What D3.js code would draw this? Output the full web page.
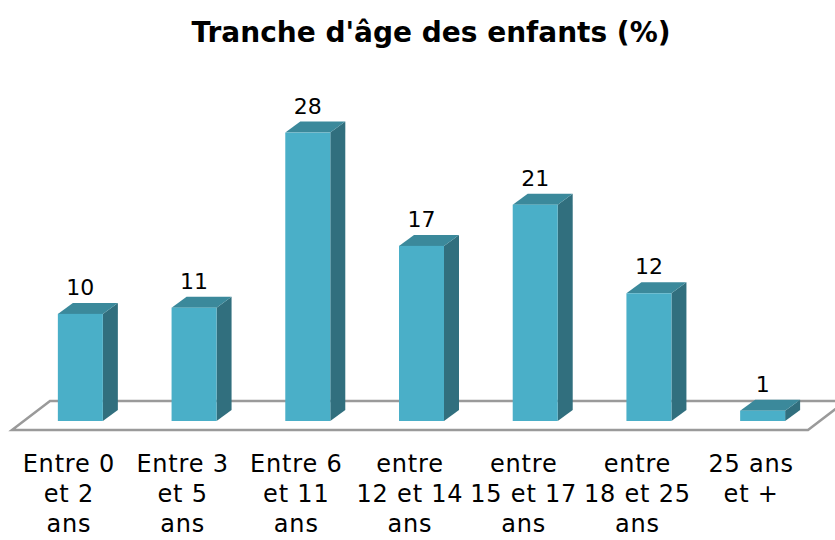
<!DOCTYPE html>
<html>
<head>
<meta charset="utf-8">
<script src="https://cdn.jsdelivr.net/npm/d3@7"></script>
<style>
	body { margin: 0; background: #fff; }
	svg { display: block; }
	text { font-family: "DejaVu Sans", sans-serif; fill: #000; }
</style>
</head>
<body>
<div id="chart"></div>
<script>

// categories (one line per entry in the label)
var categories = [
	["Entre 0", "et 2", "ans"],
	["Entre 3", "et 5", "ans"],
	["Entre 6", "et 11", "ans"],
	["entre", "12 et 14", "ans"],
	["entre", "15 et 17", "ans"],
	["entre", "18 et 25", "ans"],
	["25 ans", "et +"]
];

// percentages
var values = [10.4, 11, 28, 17, 21, 12.4, 1];

var title = "Tranche d'âge des enfants (%)";

var width = 835, height = 540;

// floor parallelogram
var floorLeft = 12, floorRight = 808, floorY = 430,
	depthX = 38, depthY = -29;

// bar geometry
var barW = 45, barDX = 15, barDY = -11, barBase = 421;

var colFront = "#4aafc8",
	colTop = "#3b899b",
	colSide = "#316f7e";

var keys = categories.map(function(d, i) { return i; });

var x = d3.scaleBand()
	.domain(keys)
	.range([floorLeft, floorRight]);

var y = d3.scaleLinear()
	.domain([0, 30])
	.range([barBase, barBase - 309]);

var svg = d3.select("#chart").append("svg")
	.attr("width", width)
	.attr("height", height);

// title
svg.append("text")
	.attr("x", 431)
	.attr("y", 42)
	.attr("text-anchor", "middle")
	.style("font-size", "28px")
	.style("font-weight", "bold")
	.text(title);

// floor
svg.append("path")
	.attr("d", "M" + floorLeft + "," + floorY +
		"L" + floorRight + "," + floorY +
		"L" + (floorRight + depthX) + "," + (floorY + depthY) +
		"L" + (floorLeft + depthX) + "," + (floorY + depthY) + "Z")
	.attr("fill", "none")
	.attr("stroke", "#9a9a9a")
	.attr("stroke-width", 2.5);

// bars
var bar = svg.selectAll("g.bar")
	.data(values)
	.enter()
	.append("g")
	.attr("class", "bar")
	.attr("transform", function(d, i) {
		var cx = x(i) + x.bandwidth() / 2 + depthX / 2;
		return "translate(" + (cx - (barW + barDX) / 2) + ",0)";
	});

// side face
bar.append("path")
	.attr("fill", colSide)
	.attr("d", function(d) {
		var t = y(d);
		return "M" + barW + "," + t + "L" + (barW + barDX) + "," + (t + barDY) +
			"L" + (barW + barDX) + "," + (barBase + barDY) + "L" + barW + "," + barBase + "Z";
	});

// top face
bar.append("path")
	.attr("fill", colTop)
	.attr("d", function(d) {
		var t = y(d);
		return "M0," + t + "L" + barDX + "," + (t + barDY) +
			"L" + (barW + barDX) + "," + (t + barDY) + "L" + barW + "," + t + "Z";
	});

// front face
bar.append("rect")
	.attr("x", 0)
	.attr("y", function(d) { return y(d); })
	.attr("width", barW)
	.attr("height", function(d) { return barBase - y(d); })
	.attr("fill", colFront);

// value labels
bar.append("text")
	.attr("x", barW / 2)
	.attr("y", function(d) { return y(d) + barDY - 8; })
	.attr("text-anchor", "middle")
	.style("font-size", "22px")
	.text(function(d) { return d3.format(".0f")(d); });

// category labels, centred on the front edge of the floor
var lab = svg.selectAll("text.cat")
	.data(categories)
	.enter()
	.append("text")
	.attr("class", "cat")
	.attr("text-anchor", "middle")
	.style("font-size", "24px")
	.style("letter-spacing", "0.8px");

lab.selectAll("tspan")
	.data(function(d, i) { return d.map(function(s) { return {s: s, i: i}; }); })
	.enter()
	.append("tspan")
	.attr("x", function(d) { return x(d.i) + x.bandwidth() / 2; })
	.attr("y", function(d, j) { return 472 + j * 30; })
	.text(function(d) { return d.s; });

</script>
</body>
</html>
